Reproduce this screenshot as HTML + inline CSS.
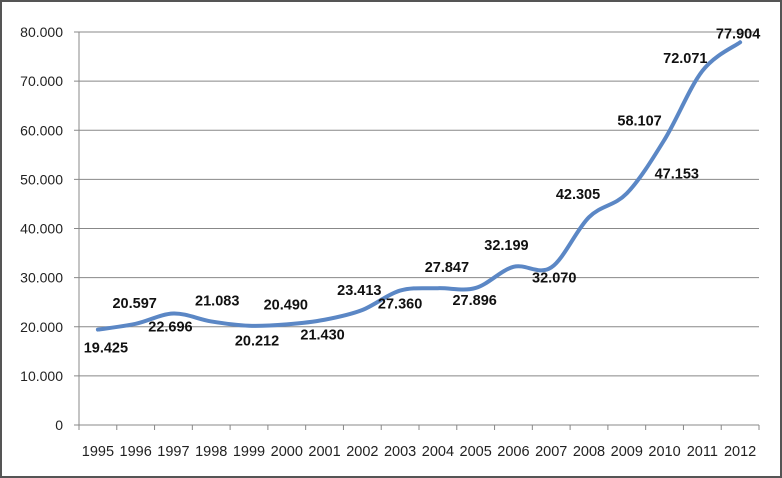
<!DOCTYPE html>
<html><head><meta charset="utf-8"><style>
body{margin:0;background:#fff}
svg{display:block;font-family:"Liberation Sans",Arial,sans-serif}
</style></head><body>
<svg id="chart" width="782" height="478" viewBox="0 0 782 478" xmlns="http://www.w3.org/2000/svg">
<rect x="1" y="1" width="780" height="476" fill="#fff" stroke="#555" stroke-width="2"/>
<g id="grid"></g><g id="axes"></g><g id="series"></g><g id="labels"></g>
</svg>
<script>
const years=['1995','1996','1997','1998','1999','2000','2001','2002','2003','2004','2005','2006','2007','2008','2009','2010','2011','2012'];
const values=[19425,20597,22696,21083,20212,20490,21430,23413,27360,27847,27896,32199,32070,42305,47153,58107,72071,77904];
const valueLabels=['19.425','20.597','22.696','21.083','20.212','20.490','21.430','23.413','27.360','27.847','27.896','32.199','32.070','42.305','47.153','58.107','72.071','77.904'];
const yTicks=[0,10000,20000,30000,40000,50000,60000,70000,80000];
const yTickLabels=['0','10.000','20.000','30.000','40.000','50.000','60.000','70.000','80.000'];
// label offsets (style, relative to point)
const offX=[8,-1,-3,6,8,-1,-2,-3,0,9,-1,-7,3,-11,50,-25,-17,-2];
const offY=[18,-21,13,-21,15,-20,15,-20,13,-21,12,-22,10,-23,-20,-19,-13,-9];
const NS='http://www.w3.org/2000/svg';
const X0=79,X1=759,Y0=425,Y1=32,YMAX=80000;
const step=(X1-X0)/years.length;
const xs=i=>X0+step*(i+0.5);
const ys=v=>Y0-(v/YMAX)*(Y0-Y1);
function mk(t,a,p){const e=document.createElementNS(NS,t);for(const k in a)e.setAttribute(k,a[k]);p.appendChild(e);return e;}
const grid=document.getElementById('grid'),axes=document.getElementById('axes'),ser=document.getElementById('series'),lab=document.getElementById('labels');
yTicks.forEach((v,i)=>{
  if(v>0){const g=mk('line',{x1:X0,x2:X1,y1:ys(v),y2:ys(v),stroke:'#888','stroke-width':1},grid);
  
  }
  const tk=mk('line',{x1:X0-5,x2:X0,y1:ys(v),y2:ys(v),stroke:'#888'},axes);
  
  
  const t=mk('text',{x:X0-16,y:ys(v)+5,'text-anchor':'end','font-size':14,fill:'#222'},axes);
  t.textContent=yTickLabels[i];
  
  
});
const ya=mk('line',{x1:X0,x2:X0,y1:Y1,y2:Y0,stroke:'#888'},axes);


const xa=mk('line',{x1:X0,x2:X1,y1:Y0,y2:Y0,stroke:'#888'},axes);


for(let i=0;i<=years.length;i++){
  const x=X0+step*i;
  const tk=mk('line',{x1:x,x2:x,y1:Y0,y2:Y0+5,stroke:'#888'},axes);
  
  
}
years.forEach((y,i)=>{
  const t=mk('text',{x:xs(i),y:456,'text-anchor':'middle','font-size':14.5,fill:'#222'},axes);
  t.textContent=y;
  
  
});
const pts=values.map((v,i)=>[xs(i),ys(v)]);
let d='M'+pts[0][0]+','+pts[0][1];
for(let i=0;i<pts.length-1;i++){
  const p0=pts[i-1]||pts[i],p1=pts[i],p2=pts[i+1],p3=pts[i+2]||p2,k=6;
  d+=' C'+(p1[0]+(p2[0]-p0[0])/k)+','+(p1[1]+(p2[1]-p0[1])/k)+' '+(p2[0]-(p3[0]-p1[0])/k)+','+(p2[1]-(p3[1]-p1[1])/k)+' '+p2[0]+','+p2[1];
}
const line=mk('path',{d:d,fill:'none',stroke:'#5b87c5','stroke-width':4,'stroke-linecap':'round'},ser);


values.forEach((v,i)=>{
  const t=mk('text',{x:xs(i)+offX[i],y:ys(v)+offY[i]+5,'text-anchor':'middle','font-size':14.5,'font-weight':'bold',fill:'#111'},lab);
  t.textContent=valueLabels[i];
  
  
});
</script>
</body></html>
